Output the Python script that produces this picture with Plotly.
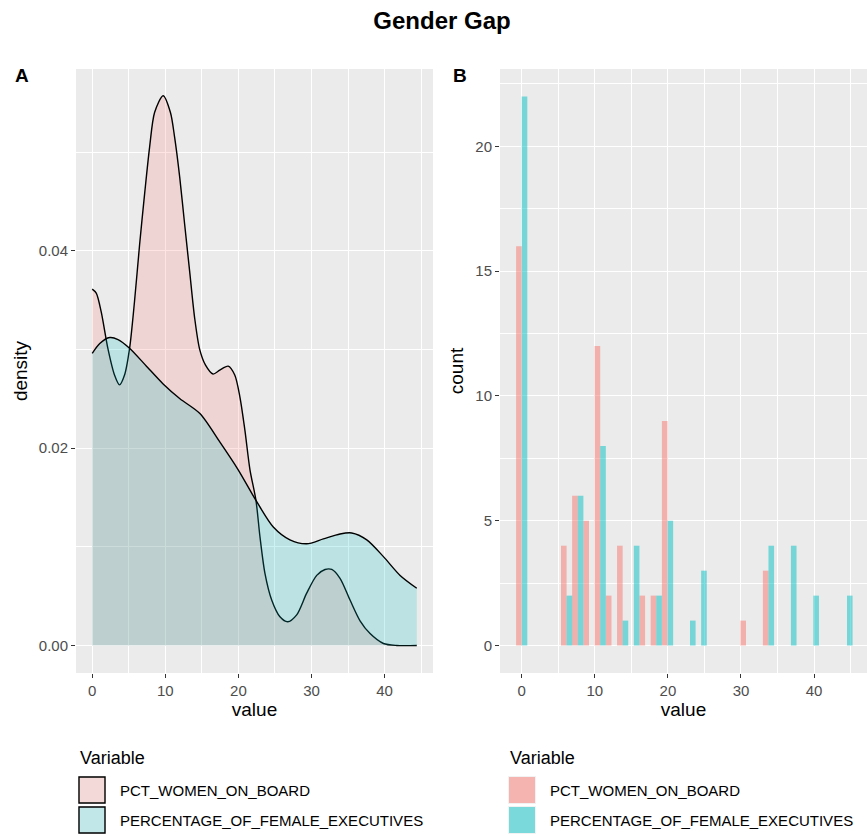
import plotly.graph_objects as go

# ---------------- data ----------------
series_names = ["PCT_WOMEN_ON_BOARD", "PERCENTAGE_OF_FEMALE_EXECUTIVES"]

# Panel A: density curves (value, density)
board_x = [0, 0.55, 1.23, 2.14, 3.05, 3.73, 4.42, 5.11, 5.79, 6.48, 7.16, 7.85, 8.53,
           9.7, 10.7, 11.27, 11.96, 12.64, 13.33, 14.01, 14.7, 15.5, 16.53, 17.45,
           18.6, 19.5, 20.2, 20.89, 21.58, 22.4, 22.95, 23.63, 24.55, 25.68, 26.74,
           27.97, 29.34, 30.71, 31.85, 32.77, 33.9, 35.27, 36.64, 38.01, 39.84,
           41.67, 44.4]
board_d = [0.0361, 0.0357, 0.0338, 0.0301, 0.0274, 0.0264, 0.0274, 0.0301, 0.0349,
           0.0406, 0.0457, 0.0505, 0.0540, 0.0557, 0.0540, 0.0515, 0.0475, 0.0427,
           0.0379, 0.0332, 0.0300, 0.0284, 0.0275, 0.0279, 0.0283, 0.0274, 0.0252,
           0.0218, 0.0178, 0.0147, 0.0110, 0.0073, 0.0046, 0.0029, 0.0024, 0.0031,
           0.0053, 0.0071, 0.0077, 0.0077, 0.0068, 0.0046, 0.0025, 0.0012, 0.0002,
           0.0000, 0.0000]

exec_x = [0, 1.03, 2.4, 3.53, 5.14, 7.42, 9.7, 12.0, 14.73, 17.47, 19.97, 22.4,
          24.77, 27.05, 29.34, 31.62, 33.9, 35.5, 37.56, 39.84, 42.12, 44.4]
exec_d = [0.0296, 0.0306, 0.0312, 0.0310, 0.0301, 0.0283, 0.0265, 0.0250, 0.0235,
          0.0206, 0.0178, 0.0147, 0.0120, 0.0107, 0.0103, 0.0108, 0.0113, 0.0114,
          0.0107, 0.0090, 0.0071, 0.0058]

# Panel B: histogram (30 bins), bin centres and counts
bin_centers = [0, 1.53, 3.07, 4.6, 6.14, 7.67, 9.21, 10.74, 12.28, 13.81, 15.34,
               16.88, 18.41, 19.95, 21.48, 23.02, 24.55, 26.09, 27.62, 29.16, 30.69,
               32.22, 33.76, 35.29, 36.83, 38.36, 39.9, 41.43, 42.97, 44.5]
board_counts = [16, 0, 0, 0, 4, 6, 5, 12, 2, 4, 0, 2, 2, 9, 0, 0, 0, 0, 0, 0, 1,
                0, 3, 0, 0, 0, 0, 0, 0, 0]
exec_counts = [22, 0, 0, 0, 2, 6, 0, 8, 0, 1, 4, 0, 2, 5, 0, 1, 3, 0, 0, 0, 0,
               0, 4, 0, 4, 0, 2, 0, 0, 2]
bin_width = 1.534

x_ticks = [0, 10, 20, 30, 40]
density_ticks = [0.00, 0.02, 0.04]
count_ticks = [0, 5, 10, 15, 20]

# ---------------- style ----------------
FONT = "Liberation Sans, Arial, Helvetica, sans-serif"
W, H = 867, 836
pink_d = "rgba(248,118,109,0.2)"
cyan_d = "rgba(0,191,196,0.2)"
pink_h = "rgba(248,118,109,0.5)"
cyan_h = "rgba(0,191,196,0.5)"
PANEL = "#EBEBEB"


def px(x):
    return x / W


def py(y):
    return (H - y) / H


fig = go.Figure()

# density curves
fig.add_trace(go.Scatter(x=board_x, y=board_d, mode="lines", fill="tozeroy",
                         fillcolor=pink_d, line=dict(color="black", width=1.4, shape="spline", smoothing=0.8),
                         name=series_names[0], showlegend=False, xaxis="x", yaxis="y",
                         hoverinfo="skip"))
fig.add_trace(go.Scatter(x=exec_x, y=exec_d, mode="lines", fill="tozeroy",
                         fillcolor=cyan_d, line=dict(color="black", width=1.4, shape="spline", smoothing=0.8),
                         name=series_names[1], showlegend=False, xaxis="x", yaxis="y",
                         hoverinfo="skip"))

# histogram (dodged)
fig.add_trace(go.Bar(x=bin_centers, y=board_counts, width=bin_width / 2, offset=-bin_width / 2,
                     marker=dict(color=pink_h, line=dict(width=0)), name=series_names[0],
                     showlegend=False, xaxis="x2", yaxis="y2"))
fig.add_trace(go.Bar(x=bin_centers, y=exec_counts, width=bin_width / 2, offset=0,
                     marker=dict(color=cyan_h, line=dict(width=0)), name=series_names[1],
                     showlegend=False, xaxis="x2", yaxis="y2"))

axis_common = dict(
    showgrid=True, gridcolor="white", gridwidth=1.3, zeroline=False, showline=False,
    ticks="outside", ticklen=4, tickwidth=1.1, tickcolor="#333333",
    tickfont=dict(family=FONT, size=15, color="#4D4D4D"),
    automargin=False,
)

fig.update_layout(
    width=W, height=H,
    margin=dict(l=0, r=0, t=0, b=0),
    paper_bgcolor="white",
    plot_bgcolor=PANEL,
    barmode="overlay",
    font=dict(family=FONT, color="black"),
    title=dict(text="Gender Gap", x=442 / W, xanchor="center", y=py(21), yanchor="middle",
               font=dict(family=FONT, size=24, color="black", weight="bold")),
    xaxis=dict(domain=[px(76), px(433)], range=[-2.22, 46.62], tickvals=x_ticks,
               ticktext=[str(v) for v in x_ticks],
               minor=dict(dtick=5, tick0=0, showgrid=True, gridcolor="white", gridwidth=0.6, ticks=""),
               title=dict(text="value", font=dict(family=FONT, size=19, color="black"), standoff=4),
               anchor="y", **axis_common),
    yaxis=dict(domain=[py(673), py(69)], range=[-0.00279, 0.05841], tickvals=density_ticks,
               ticktext=["%.2f" % v for v in density_ticks],
               minor=dict(dtick=0.01, tick0=0, showgrid=True, gridcolor="white", gridwidth=0.6, ticks=""),
               title=dict(text="density", font=dict(family=FONT, size=19, color="black"), standoff=6),
               anchor="x", **axis_common),
    xaxis2=dict(domain=[px(500), 1.0], range=[-2.97, 47.24], tickvals=x_ticks,
                ticktext=[str(v) for v in x_ticks],
                minor=dict(dtick=5, tick0=0, showgrid=True, gridcolor="white", gridwidth=0.6, ticks=""),
                title=dict(text="value", font=dict(family=FONT, size=19, color="black"), standoff=4),
                anchor="y2", **axis_common),
    yaxis2=dict(domain=[py(673), py(69)], range=[-1.1, 23.1], tickvals=count_ticks,
                ticktext=[str(v) for v in count_ticks],
                minor=dict(dtick=2.5, tick0=0, showgrid=True, gridcolor="white", gridwidth=0.6, ticks=""),
                title=dict(text="count", font=dict(family=FONT, size=19, color="black"), standoff=6),
                anchor="x2", **axis_common),
)

# panel tags
for tag, xx in (("A", 13), ("B", 451)):
    fig.add_annotation(text=tag, x=px(xx), y=py(75), xref="paper", yref="paper",
                       xanchor="left", yanchor="middle", showarrow=False,
                       font=dict(family=FONT, size=19, color="black", weight="bold"))

# manual legends (ggplot-like keys)
legend_specs = [
    (78, [pink_d, cyan_d], True),
    (508, [pink_h, cyan_h], False),
]
for left, colors, outlined in legend_specs:
    fig.add_annotation(text="Variable", x=px(left), y=py(758), xref="paper", yref="paper",
                       xanchor="left", yanchor="middle", showarrow=False,
                       font=dict(family=FONT, size=18, color="black"))
    for i, (name, col) in enumerate(zip(series_names, colors)):
        top = 776 + i * 30
        bot = top + 28
        fig.add_shape(type="rect", xref="paper", yref="paper",
                      x0=px(left), x1=px(left + 28), y0=py(bot), y1=py(top),
                      fillcolor="#F2F2F2", line=dict(width=0), layer="above")
        fig.add_shape(type="rect", xref="paper", yref="paper",
                      x0=px(left + 1), x1=px(left + 27), y0=py(bot - 1), y1=py(top + 1),
                      fillcolor=col,
                      line=dict(color="black", width=1.4) if outlined else dict(width=0),
                      layer="above")
        fig.add_annotation(text=name, x=px(left + 40), y=py((top + bot) / 2),
                           xref="paper", yref="paper", xanchor="left", yanchor="middle",
                           showarrow=False, font=dict(family=FONT, size=15, color="black"))

fig.write_html("out.html")
